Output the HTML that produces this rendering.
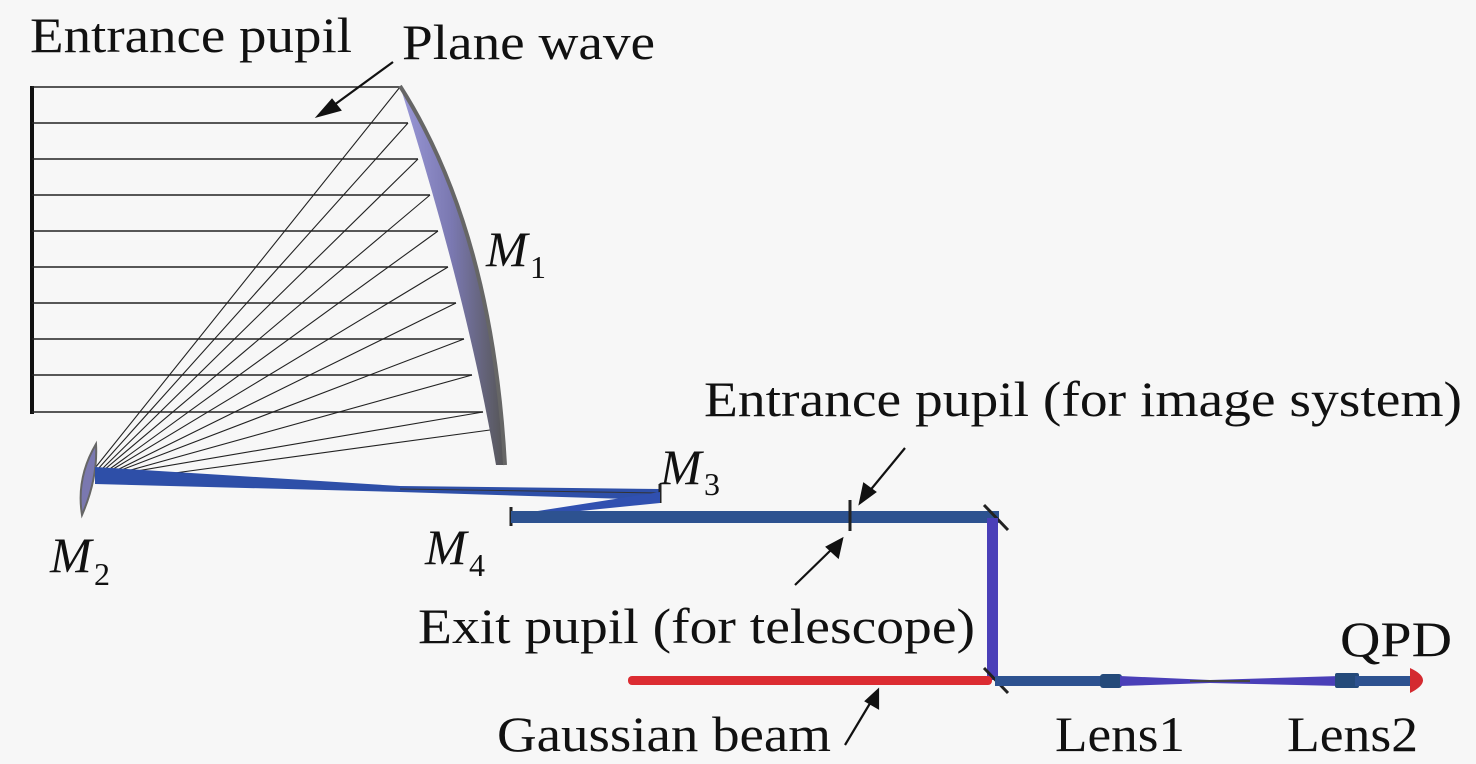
<!DOCTYPE html>
<html><head><meta charset="utf-8"><style>
html,body{margin:0;padding:0;background:#f7f7f7;}
svg{display:block;}
text{font-family:"Liberation Serif",serif;fill:#111;}
</style></head><body>
<svg width="1476" height="764" viewBox="0 0 1476 764" xmlns="http://www.w3.org/2000/svg">
<defs>
<linearGradient id="m1" x1="0" y1="0" x2="1" y2="0">
<stop offset="0" stop-color="#9a98d8"/><stop offset="0.5" stop-color="#7a78b0"/><stop offset="1" stop-color="#555"/>
</linearGradient>
</defs>
<rect width="1476" height="764" fill="#f7f7f7"/>
<line x1="32" y1="86" x2="32" y2="414" stroke="#111" stroke-width="4"/>
<g stroke="#222" stroke-width="1.6">
<line x1="32" y1="87" x2="400" y2="87"/>
<line x1="32" y1="123" x2="408" y2="123"/>
<line x1="32" y1="159" x2="418" y2="159"/>
<line x1="32" y1="195" x2="430" y2="195"/>
<line x1="32" y1="231" x2="438" y2="231"/>
<line x1="32" y1="267" x2="448" y2="267"/>
<line x1="32" y1="303" x2="456" y2="303"/>
<line x1="32" y1="339" x2="464" y2="339"/>
<line x1="32" y1="375" x2="472" y2="375"/>
<line x1="32" y1="412" x2="483" y2="412"/>
</g>
<g stroke="#222" stroke-width="1.1">
<line x1="400" y1="87" x2="95" y2="468"/>
<line x1="408" y1="123" x2="98" y2="469"/>
<line x1="418" y1="159" x2="101" y2="470"/>
<line x1="430" y1="195" x2="104" y2="470"/>
<line x1="438" y1="231" x2="107" y2="471"/>
<line x1="448" y1="267" x2="110" y2="471"/>
<line x1="456" y1="303" x2="113" y2="472"/>
<line x1="464" y1="339" x2="116" y2="472"/>
<line x1="472" y1="375" x2="120" y2="473"/>
<line x1="483" y1="412" x2="125" y2="473"/>
<line x1="490" y1="430" x2="160" y2="475"/>
</g>
<path d="M400,86 Q492,230 505,465 L496,465 Q468,300 400,86 Z" fill="url(#m1)"/>
<path d="M400,86 Q492,230 505,465" fill="none" stroke="#666" stroke-width="4"/>
<path d="M96,444 Q76,478 82,515 Q98,478 96,444 Z" fill="#7a78b0" stroke="#666" stroke-width="2"/>
<polygon points="95,467 400,486 660,489 660,500 400,492 95,484" fill="#2e4fa8"/>
<line x1="400" y1="489" x2="660" y2="493" stroke="#333" stroke-width="1"/>
<line x1="660" y1="484" x2="660" y2="503" stroke="#222" stroke-width="3"/>
<polygon points="660,492 660,503 520,517 512,521 512,515" fill="#3050b0"/>
<line x1="511" y1="507" x2="511" y2="526" stroke="#222" stroke-width="3"/>
<rect x="511" y="511" width="488" height="12" fill="#2d5290"/>
<line x1="850" y1="500" x2="850" y2="531" stroke="#222" stroke-width="3"/>
<line x1="984" y1="505" x2="1008" y2="530" stroke="#222" stroke-width="3"/>
<rect x="987" y="518" width="11" height="162" fill="#4a3fb8"/>
<rect x="628" y="676" width="364" height="9" rx="4" fill="#dc2c32"/>
<line x1="984" y1="668" x2="1008" y2="693" stroke="#222" stroke-width="3"/>
<rect x="995" y="676" width="115" height="10" fill="#2d5290"/>
<rect x="1100" y="674" width="22" height="14" rx="3" fill="#244a7a"/>
<polygon points="1120,676 1210,680 1340,676 1340,686 1210,683 1120,686" fill="#4a3fb8"/>
<line x1="1190" y1="681" x2="1250" y2="681" stroke="#444" stroke-width="2"/>
<rect x="1335" y="673" width="24" height="15" rx="2" fill="#244a7a"/>
<rect x="1355" y="676" width="60" height="10" fill="#2d5290"/>
<path d="M1410,668 Q1436,680 1410,693 Z" fill="#d42a30"/>
<g stroke="#111" stroke-width="2.2" fill="#111">
<line x1="393" y1="62" x2="330" y2="108"/>
<polygon points="318,116 332,100 340,110"/>
<line x1="905" y1="448" x2="868" y2="493"/>
<polygon points="860,503 864,484 875,492"/>
<line x1="795" y1="585" x2="833" y2="548"/>
<polygon points="842,539 838,557 827,547"/>
<line x1="845" y1="745" x2="872" y2="700"/>
<polygon points="878,690 878,708 866,701"/>
</g>
<text x="30" y="52" font-size="50" textLength="322" lengthAdjust="spacingAndGlyphs">Entrance pupil</text>
<text x="402" y="59" font-size="50" textLength="253" lengthAdjust="spacingAndGlyphs">Plane wave</text>
<text x="486" y="266" font-size="50" font-style="italic">M</text><text x="530" y="278" font-size="32">1</text>
<text x="50" y="572" font-size="50" font-style="italic">M</text><text x="94" y="585" font-size="32">2</text>
<text x="660" y="484" font-size="50" font-style="italic">M</text><text x="704" y="495" font-size="32">3</text>
<text x="425" y="564" font-size="50" font-style="italic">M</text><text x="469" y="576" font-size="32">4</text>
<text x="704" y="416" font-size="50" textLength="758" lengthAdjust="spacingAndGlyphs">Entrance pupil (for image system)</text>
<text x="418" y="643" font-size="50" textLength="557" lengthAdjust="spacingAndGlyphs">Exit pupil (for telescope)</text>
<text x="497" y="751" font-size="50" textLength="334" lengthAdjust="spacingAndGlyphs">Gaussian beam</text>
<text x="1055" y="751" font-size="50" textLength="130" lengthAdjust="spacingAndGlyphs">Lens1</text>
<text x="1287" y="751" font-size="50" textLength="131" lengthAdjust="spacingAndGlyphs">Lens2</text>
<text x="1340" y="656" font-size="50" textLength="112" lengthAdjust="spacingAndGlyphs">QPD</text>
</svg>
</body></html>
